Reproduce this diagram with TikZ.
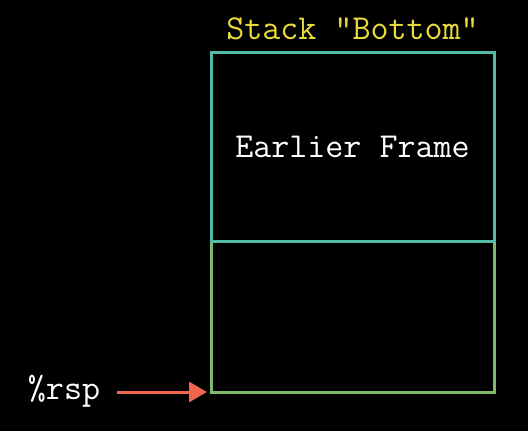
\documentclass[tikz,border=0pt]{standalone}
\usetikzlibrary{arrows.meta}
\definecolor{tealbox}{HTML}{52BBAA}
\definecolor{greenbox}{HTML}{7DBA6C}
\definecolor{stackyellow}{HTML}{E8DC3A}
\definecolor{arroworange}{HTML}{F0664C}
\tikzset{
  frame/.style={draw, line width=3pt, minimum width=283pt, inner sep=0pt},
  lbl/.style={font=\fontsize{35}{41}\selectfont\ttfamily, inner sep=0pt},
}
\begin{document}
\begin{tikzpicture}[x=1pt,y=-1pt]
\fill[black] (0,0) rectangle (528,431);
\useasboundingbox (0,0) rectangle (528,431);
\node[frame, draw=greenbox, minimum height=151pt] (cur) at (352.5,316.5) {};
\node[frame, draw=tealbox, minimum height=189pt, text=white, lbl] (earlier) at (352.5,146.5) {Earlier Frame};
\node[lbl, text=stackyellow, anchor=center] (bottom) at (352.5,29) {Stack "Bottom"};
\node[lbl, text=white, anchor=center] (rsp) at (64,391) {\%rsp};
\coordinate (tip) at (207,392);
\draw[arroworange, line width=3pt, -{Triangle[length=18pt,width=20pt]}] (117,392) -- (tip);
\end{tikzpicture}
\end{document}
